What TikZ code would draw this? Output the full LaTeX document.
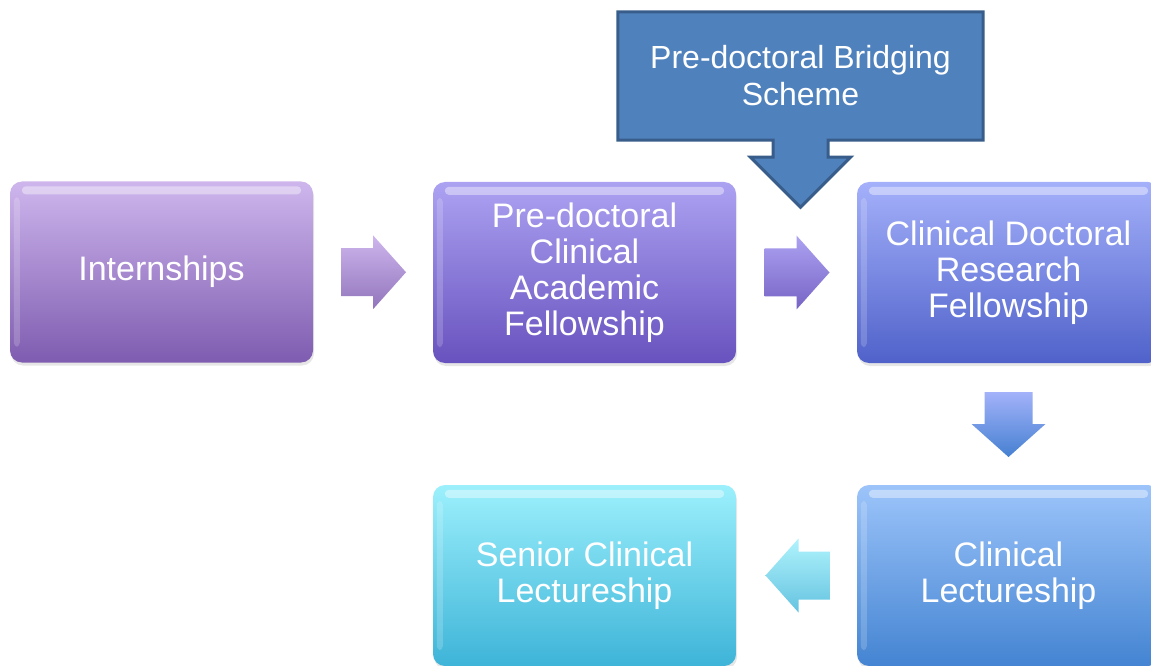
\documentclass[tikz,border=0pt]{standalone}
\usepackage{fontspec}
\setmainfont{Liberation Sans}
\usetikzlibrary{calc, shadows, backgrounds}
\definecolor{internTop}{RGB}{206,182,237}
\definecolor{internBot}{RGB}{126,92,176}
\definecolor{predocTop}{RGB}{172,162,242}
\definecolor{predocBot}{RGB}{104,82,190}
\definecolor{cdrfTop}{RGB}{164,176,250}
\definecolor{cdrfBot}{RGB}{80,98,202}
\definecolor{lectTop}{RGB}{156,196,250}
\definecolor{lectBot}{RGB}{68,132,210}
\definecolor{seniorTop}{RGB}{156,240,252}
\definecolor{seniorBot}{RGB}{62,180,216}
\definecolor{bridgeFill}{RGB}{79,129,189}
\definecolor{bridgeLine}{RGB}{56,93,138}

\begin{document}
\begin{tikzpicture}[x=1pt, y=1pt,
		stagebox/.style 2 args={rounded corners=12pt, minimum width=303pt, minimum height=181pt,
			inner sep=0pt, align=center, text=white, top color=#1, bottom color=#2,
			font=\fontsize{34}{36}\selectfont,
			drop shadow={opacity=0.2, shadow xshift=1pt, shadow yshift=-3pt}},
		blockarrow/.style 2 args={top color=#1, bottom color=#2, draw=none},
		gloss/.style={white, opacity=0.4, rounded corners=4pt}]
	% Bildbereich
	\useasboundingbox (0,0) rectangle (1151,665);
	\clip (0,0) rectangle (1151,665);
	% Stationen
	\node[stagebox={internTop}{internBot}] (intern) at (161.5,393) {\raisebox{-3pt}{Internships}};
	\node[stagebox={predocTop}{predocBot}] (predoc) at (584.5,392.5) {Pre-doctoral\\Clinical\\Academic\\Fellowship};
	\node[stagebox={cdrfTop}{cdrfBot}] (cdrf) at (1008.5,392.5) {Clinical Doctoral\\Research\\Fellowship};
	\node[stagebox={lectTop}{lectBot}] (lect) at (1008.5,89.5) {Clinical\\Lectureship};
	\node[stagebox={seniorTop}{seniorBot}] (senior) at (584.5,89.5) {Senior Clinical\\Lectureship};
	% Glanzlichter
	\foreach \n in {intern, predoc, cdrf, lect, senior} {
		\fill[gloss] ($(\n.north west)+(12,-5)$) rectangle ($(\n.north east)+(-12,-13)$);
		\fill[gloss, opacity=0.18] ($(\n.north west)+(4,-16)$) rectangle ($(\n.south west)+(10,16)$);
	}
	% Pfeile zwischen den Stationen
	\coordinate (a1) at ($(intern.east)!0.5!(predoc.west)$);
	\coordinate (a2) at ($(predoc.east)!0.5!(cdrf.west)$);
	\coordinate (a3) at ($(cdrf.south)!0.5!(lect.north)$);
	\coordinate (a4) at ($(senior.east)!0.5!(lect.west)$);
	\shade[blockarrow={internTop}{internBot!85}, shift={(a1)}]
		(-32,-24) -- (0,-24) -- (0,-37) -- (33,0) -- (0,37) -- (0,24) -- (-32,24) -- cycle;
	\shade[blockarrow={predocTop}{predocBot!90}, shift={(a2)}]
		(-32,-24) -- (0,-24) -- (0,-37) -- (33,0) -- (0,37) -- (0,24) -- (-32,24) -- cycle;
	\shade[blockarrow={cdrfTop!90!lectTop}{lectBot!90!cdrfBot}, shift={(a3)}]
		(-24,32) -- (-24,0) -- (-37,0) -- (0,-33) -- (37,0) -- (24,0) -- (24,32) -- cycle;
	\shade[blockarrow={seniorTop!80}{seniorBot!80}, shift={($(a4)+(2,0)$)}]
		(32,-24) -- (0,-24) -- (0,-37) -- (-33,0) -- (0,37) -- (0,24) -- (32,24) -- cycle;
	% Bruecke oben
	\node[minimum width=365pt, minimum height=128pt, inner sep=0pt, align=center, text=white,
		font=\fontsize{32}{37}\selectfont] (bridge) at (800.5,589) {Pre-doctoral Bridging\\Scheme};
	\begin{scope}[on background layer]
		\filldraw[fill=bridgeFill, draw=bridgeLine, line width=3pt]
			(bridge.north west) -- (bridge.south west) -- ($(bridge.south)+(-27.5,0)$) -- ++(0,-17)
			-- ++(-22.5,0) -- ($(bridge.south)+(0,-67)$) -- ($(bridge.south)+(50,-17)$) -- ++(-22.5,0)
			-- ++(0,17) -- (bridge.south east) -- (bridge.north east) -- cycle;
	\end{scope}
\end{tikzpicture}
\end{document}
